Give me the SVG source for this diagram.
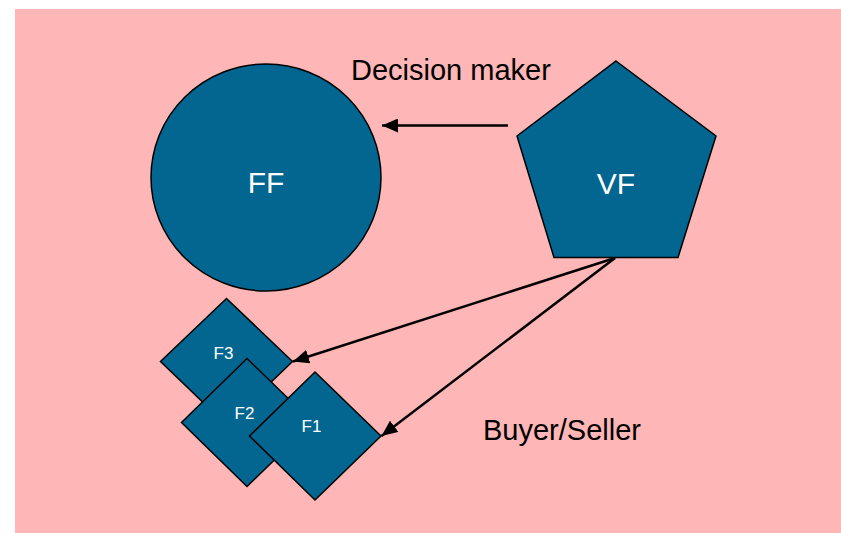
<svg xmlns="http://www.w3.org/2000/svg" width="841" height="533" viewBox="0 0 841 533">
<defs>
<style>
.shape{fill:#036690;stroke:#000;stroke-width:1.5}
.lbl{font-family:"Liberation Sans",Arial,sans-serif;fill:#fff;text-anchor:middle}
.cap{font-family:"Liberation Sans",Arial,sans-serif;fill:#000;font-size:29px}
.conn{stroke:#000;stroke-width:2.5;fill:none;marker-end:url(#ah)}
</style>
<marker id="ah" markerWidth="18" markerHeight="14" refX="16" refY="7" orient="auto" markerUnits="userSpaceOnUse">
<path d="M0,0 L16,7 L0,14 Z" fill="#000"/>
</marker>
</defs>
<rect x="0" y="0" width="841" height="533" fill="#fff"/>
<rect x="15" y="9" width="826" height="524" fill="#FFB6B6"/>
<g id="FF">
<ellipse class="shape" cx="266" cy="177.5" rx="115" ry="113.5"/>
<text class="lbl" x="266" y="192.5" font-size="30">FF</text>
</g>
<g id="VF">
<polygon class="shape" points="616,61 716,136 678,257.5 554,257.5 517,136"/>
<text class="lbl" x="616" y="194" font-size="30">VF</text>
</g>
<g id="F3">
<polygon class="shape" points="226.5,298.5 292.5,361.5 226.5,425 160.5,361.5"/>
<text class="lbl" x="223.5" y="359" font-size="17">F3</text>
</g>
<g id="F2">
<polygon class="shape" points="247,358.5 313,422.5 247,486.5 181.5,422.5"/>
<text class="lbl" x="244.5" y="418.5" font-size="17">F2</text>
</g>
<g id="F1">
<polygon class="shape" points="315,372 381,436 315,500 249.5,436"/>
<text class="lbl" x="311.5" y="432" font-size="17">F1</text>
</g>
<g id="labels">
<text class="cap" x="351" y="80">Decision maker</text>
<text class="cap" x="483" y="440">Buyer/Seller</text>
</g>
<g id="connectors">
<line class="conn" x1="508" y1="125.5" x2="382" y2="125.5"/>
<line class="conn" x1="615" y1="258" x2="293" y2="361.5"/>
<line class="conn" x1="615" y1="258" x2="381.5" y2="436"/>
</g>
</svg>
